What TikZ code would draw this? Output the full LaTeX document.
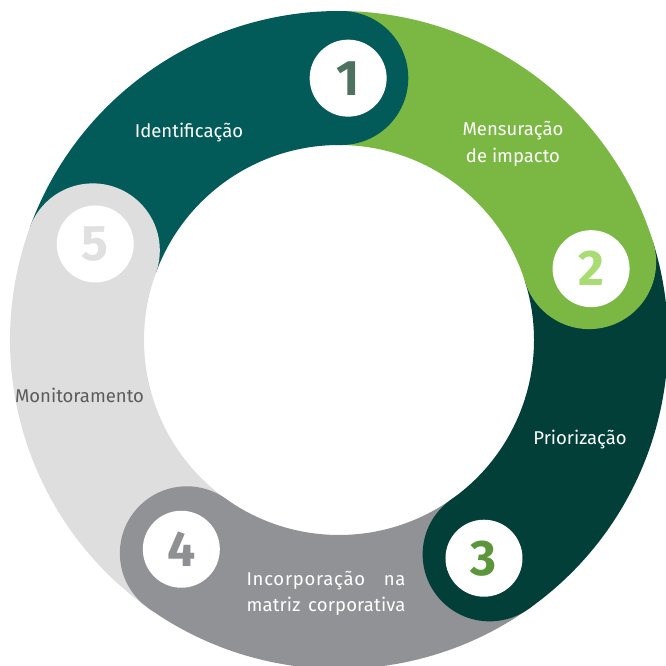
\documentclass[tikz,border=0pt]{standalone}
\usepackage{fontspec}
\setmainfont{Fira Sans}
\definecolor{cteal}{HTML}{035B59}
\definecolor{cgreen}{HTML}{7AB743}
\definecolor{cdkgreen}{HTML}{023F39}
\definecolor{cgray}{HTML}{919295}
\definecolor{clgray}{HTML}{DEDEDF}
\definecolor{tone}{HTML}{4E7262}
\definecolor{ttwo}{HTML}{A9DC72}
\definecolor{tthree}{HTML}{5C963A}
\definecolor{tfour}{HTML}{8F9093}
\definecolor{tfive}{HTML}{E0E0E0}
\definecolor{tmon}{HTML}{5B5B5B}
\newcommand\ringsector[3]{\fill[#3] (#1:329) arc[start angle=#1,end angle=#2,radius=329] -- (#2:195) arc[start angle=#2,end angle=#1,radius=195] -- cycle;}
\tikzset{
  numc/.style={circle, fill=white, minimum size=77pt, inner sep=0pt, font=\fontsize{50}{50}\selectfont\bfseries},
  lbl/.style={font=\fontsize{18.5}{26.5}\selectfont, text=white, inner sep=0pt, align=center}
}
\begin{document}
\begin{tikzpicture}[x=1pt,y=1pt]
\useasboundingbox (0,0) rectangle (666,665);
\begin{scope}[shift={(339,325)}]
  % ring sectors
  \ringsector{160}{89.5}{cteal}
  \ringsector{89.5}{17.3}{cgreen}
  \ringsector{17.3}{-54.9}{cdkgreen}
  \ringsector{-54.9}{-125.5}{cgray}
  \ringsector{-125.5}{-200}{clgray}
  % rounded caps
  \fill[cteal] (89.5:262) circle[radius=67];
  \fill[cgreen] (17.3:262) circle[radius=67];
  \fill[cdkgreen] (-54.9:262) circle[radius=67];
  \fill[cgray] (-125.5:262) circle[radius=67];
  \fill[clgray] (160:262) circle[radius=67];
  % numbers
  \node[numc, text=tone] (n1) at (88:262) {1};
  \node[numc, text=ttwo] (n2) at (15.8:262) {2};
  \node[numc, text=tthree] (n3) at (-56.4:262) {3};
  \node[numc, text=tfour] (n4) at (-127:262) {4};
  \node[numc, text=tfive] (n5) at (158.5:262) {5};
\end{scope}
% labels
\node[lbl] (t1) at (189,532) {Identificação};
\node[lbl] (t2) at (513,521) {Mensuração\\de impacto};
\node[lbl] (t3) at (580,225) {Priorização};
\node[lbl, align=left] (t4) at (326,71.5) {\makebox[159pt][s]{\addfontfeature{LetterSpace=4}Incorporação na}\\\makebox[159pt][s]{\addfontfeature{LetterSpace=1}matriz corporativa}};
\node[lbl, text=tmon] (t5) at (79.5,270) {Monitoramento};
\end{tikzpicture}
\end{document}
